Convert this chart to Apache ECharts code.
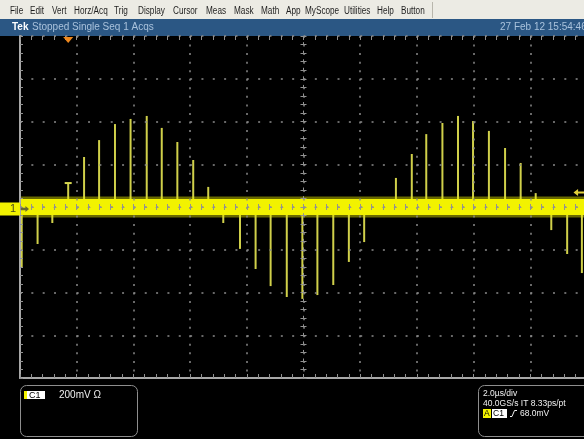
<!DOCTYPE html>
<html>
<head>
<meta charset="utf-8">
<script src="https://cdn.jsdelivr.net/npm/echarts@6/dist/echarts.min.js"></script>
<style>
  html, body { margin: 0; padding: 0; background: #000; }
  #scope { width: 584px; height: 439px; }
</style>
</head>
<body>
<div id="scope"></div>
<script>
// Channel 1 single-shot record, 2.0 µs/div and 200 mV/div, time counted from screen centre.
const timeRangeUs = [-10, 10];
const voltRangeMv = [-800, 800];
const timeDivUs = 2;
const voltDivMv = 200;

// Spike train riding on the noisy baseline (time in µs, peak in mV)
const spikeTimesUs = [
  -9.94, -9.38, -8.86, -8.30, -7.74, -7.21, -6.65, -6.10, -5.53, -5.00,
  -4.45, -3.89, -3.36, -2.83, -2.24, -1.69, -1.16, -0.59, -0.04, 0.49,
  1.05, 1.60, 2.14, 3.26, 3.82, 4.33, 4.90, 5.45, 5.98, 6.54,
  7.11, 7.66, 8.19, 8.74, 9.30, 9.82
];
const spikePeakMv = [
  -285, -173, -75, 112, 234, 313, 388, 412, 426, 370,
  304, 220, 94, -75, -196, -290, -370, -421, -430, -412,
  -365, -257, -164, 136, 248, 341, 393, 426, 402, 356,
  276, 206, 65, -108, -220, -309
];

const baselineMv = 0;
const triggerTimeUs = -8.30;
const triggerLevelMv = 68;

const menuLabels = ['File', 'Edit', 'Vert', 'Horz/Acq', 'Trig', 'Display', 'Cursor', 'Meas',
  'Mask', 'Math', 'App', 'MyScope', 'Utilities', 'Help', 'Button'];
const statusText = 'Stopped Single Seq 1 Acqs';
const dateText = '27 Feb 12 15:54:46';
const channelScaleText = '200mV \u03a9';
const timebaseText = '2.0\u00b5s/div';
const sampleText = '40.0GS/s IT 8.33ps/pt';
const trigLevelText = '68.0mV';

// ---- layout ----
const plot = { left: 20, top: 36, width: 567, height: 342 };
const minorX = plot.width / ((timeRangeUs[1] - timeRangeUs[0]) / timeDivUs) / 5;
const minorY = plot.height / ((voltRangeMv[1] - voltRangeMv[0]) / voltDivMv) / 5;
const FONT = 'Liberation Sans, Arial, sans-serif';

const gridDot = '#8a8a8a';
const tickGrey = '#929292';
const frameGrey = '#a8a8a8';

function xAxisBase(extra) {
  return Object.assign({
    type: 'value', min: timeRangeUs[0], max: timeRangeUs[1], interval: timeDivUs,
    axisLabel: { show: false }, splitLine: { show: false }, z: 4, silent: true
  }, extra);
}
function yAxisBase(extra) {
  return Object.assign({
    type: 'value', min: voltRangeMv[0], max: voltRangeMv[1], interval: voltDivMv,
    axisLabel: { show: false }, splitLine: { show: false }, z: 4, silent: true
  }, extra);
}
const tick = (len, inside) => ({ show: true, inside: inside, length: len, lineStyle: { color: tickGrey, width: 1 } });
const minor = (len) => ({ show: true, splitNumber: 5, length: len, lineStyle: { color: tickGrey, width: 1 } });

const xAxes = [
  // centre horizontal graticule line, ticks downward, plus vertical division lines
  xAxisBase({
    position: 'bottom',
    axisLine: { show: true, onZero: true, lineStyle: { color: tickGrey, width: 1, type: [2, minorX - 2] } },
    axisTick: tick(3, false), minorTick: minor(3),
    splitLine: { show: true, lineStyle: { color: gridDot, width: 1.5, type: [2, minorY - 2] } }
  }),
  // centre ticks pointing upward
  xAxisBase({
    position: 'bottom',
    axisLine: { show: false, onZero: true },
    axisTick: tick(3, true), minorTick: minor(3)
  }),
  // bottom frame
  xAxisBase({
    position: 'bottom',
    axisLine: { show: true, onZero: false, lineStyle: { color: frameGrey, width: 2 } },
    axisTick: tick(4, true), minorTick: minor(4)
  }),
  // top frame ticks
  xAxisBase({
    position: 'top',
    axisLine: { show: false, onZero: false },
    axisTick: tick(4, true), minorTick: minor(4)
  })
];

const yAxes = [
  // centre vertical graticule line, ticks to the left, plus horizontal division lines
  yAxisBase({
    position: 'left',
    axisLine: { show: true, onZero: true, lineStyle: { color: tickGrey, width: 1, type: [2, minorY - 2] } },
    axisTick: tick(3, false), minorTick: minor(3),
    splitLine: { show: true, lineStyle: { color: gridDot, width: 1.5, type: [2, minorX - 2] } }
  }),
  // centre ticks to the right
  yAxisBase({
    position: 'left',
    axisLine: { show: false, onZero: true },
    axisTick: tick(3, true), minorTick: minor(3)
  }),
  // left frame
  yAxisBase({
    position: 'left',
    axisLine: { show: true, onZero: false, lineStyle: { color: frameGrey, width: 2 } },
    axisTick: tick(3, true), minorTick: minor(3)
  })
];

// ---- window chrome ----
const menuX = [10, 30, 52, 74, 114, 138, 173, 206, 234, 261, 286, 305, 344, 377, 401];
const chrome = [
  { type: 'rect', shape: { x: 0, y: 0, width: 584, height: 19 }, style: { fill: '#ecebe4' } },
  { type: 'rect', shape: { x: 0, y: 19, width: 584, height: 17 }, style: { fill: '#2b5784' } },
  { type: 'line', shape: { x1: 432.5, y1: 2, x2: 432.5, y2: 18 }, style: { stroke: '#b8b6ac', lineWidth: 1 } },
  { type: 'text', x: 12, y: 27.5, style: { text: 'Tek', font: 'bold 10px ' + FONT, fill: '#ffffff', verticalAlign: 'middle' } },
  { type: 'text', x: 32, y: 27.5, style: { text: statusText, font: '10px ' + FONT, fill: '#a9c2dc', verticalAlign: 'middle' } },
  { type: 'text', x: 500, y: 27.5, style: { text: dateText, font: '10px ' + FONT, fill: '#a9c2dc', verticalAlign: 'middle' } },
  // readout boxes
  { type: 'rect', shape: { x: 20.5, y: 385.5, width: 117, height: 51, r: 6 }, style: { fill: 'none', stroke: '#8e8e8e', lineWidth: 1 } },
  { type: 'rect', shape: { x: 478.5, y: 385.5, width: 120, height: 51, r: 6 }, style: { fill: 'none', stroke: '#8e8e8e', lineWidth: 1 } },
  { type: 'rect', shape: { x: 24, y: 391, width: 3, height: 8 }, style: { fill: '#f2f200' } },
  { type: 'rect', shape: { x: 27, y: 391, width: 18, height: 8 }, style: { fill: '#ffffff' } },
  { type: 'text', x: 29, y: 395.5, style: { text: 'C1', font: '9px ' + FONT, fill: '#000', verticalAlign: 'middle' } },
  { type: 'text', x: 59, y: 395.5, style: { text: channelScaleText, font: '10px ' + FONT, fill: '#f0f0f0', verticalAlign: 'middle' } },
  { type: 'text', x: 483, y: 394, style: { text: timebaseText, font: '8.5px ' + FONT, fill: '#f0f0f0', verticalAlign: 'middle' } },
  { type: 'text', x: 483, y: 403.5, style: { text: sampleText, font: '8.5px ' + FONT, fill: '#f0f0f0', verticalAlign: 'middle' } },
  { type: 'rect', shape: { x: 483, y: 409, width: 8, height: 9 }, style: { fill: '#f2f200' } },
  { type: 'text', x: 484, y: 413.5, style: { text: 'A', font: '8.5px ' + FONT, fill: '#000', verticalAlign: 'middle' } },
  { type: 'rect', shape: { x: 492, y: 409, width: 15, height: 9 }, style: { fill: '#ffffff' } },
  { type: 'text', x: 493, y: 413.5, style: { text: 'C1', font: '8.5px ' + FONT, fill: '#000', verticalAlign: 'middle' } },
  { type: 'polyline', shape: { points: [[510, 416.5], [512, 416.5], [514.5, 410.5], [517, 410.5]] }, style: { stroke: '#f0f0f0', lineWidth: 1, fill: null } },
  { type: 'text', x: 520, y: 413.5, style: { text: trigLevelText, font: '8.5px ' + FONT, fill: '#f0f0f0', verticalAlign: 'middle' } }
];
menuLabels.forEach((label, i) => {
  chrome.push({ type: 'text', x: menuX[i], y: 11, scaleX: 0.82,
    style: { text: label, font: '10px ' + FONT, fill: '#1e1e1e', verticalAlign: 'middle' } });
});

const spikeData = spikeTimesUs.map((t, i) => [t, spikePeakMv[i]]);
const trigIdx = spikeTimesUs.indexOf(triggerTimeUs);

const chart = echarts.init(document.getElementById('scope'), null, { renderer: 'canvas' });
chart.setOption({
  backgroundColor: '#000000',
  animation: false,
  grid: Object.assign({ containLabel: false, outerBoundsMode: 'none', show: false }, plot),
  xAxis: xAxes,
  yAxis: yAxes,
  graphic: { elements: chrome },
  series: [
    {
      name: 'spikes',
      type: 'bar',
      data: spikeData,
      barWidth: 2,
      itemStyle: { color: '#d0d04a' },
      silent: true,
      z: 2,
      markPoint: {
        silent: true, z: 6,
        label: { show: false },
        data: [
          { coord: [triggerTimeUs, spikePeakMv[trigIdx]], symbol: 'rect', symbolSize: [7, 2],
            itemStyle: { color: '#d8d850' } }
        ]
      }
    },
    {
      name: 'trace halo',
      type: 'line',
      data: [[timeRangeUs[0], baselineMv], [timeRangeUs[1], baselineMv]],
      symbol: 'none', silent: true, z: 3,
      lineStyle: { color: '#e8e800', width: 21, opacity: 0.45, cap: 'butt' }
    },
    {
      name: 'trace',
      type: 'line',
      data: [[timeRangeUs[0], baselineMv], [timeRangeUs[1], baselineMv]],
      symbol: 'none', silent: true, z: 3,
      lineStyle: { color: '#f2f200', width: 16, cap: 'butt' },
      markPoint: {
        silent: true, z: 6,
        label: { show: false },
        data: [
          { coord: [timeRangeUs[0], baselineMv], symbol: 'rect', symbolSize: [20, 13], symbolOffset: [-10, 2],
            itemStyle: { color: '#f2f200' },
            label: { show: true, formatter: '1', color: '#4a4a20', fontSize: 11, fontFamily: FONT, offset: [3, 0] } },
          { coord: [timeRangeUs[0], baselineMv], symbol: 'path://M0,2H5V0L9,3.5L5,7V5H0Z', symbolSize: [8, 6], symbolOffset: [5, 2],
            itemStyle: { color: '#6a6a30' } },
          { coord: [triggerTimeUs, voltRangeMv[1]], symbol: 'triangle', symbolRotate: 180, symbolSize: [10, 6], symbolOffset: [0, 4],
            itemStyle: { color: '#f0891e' } },
          { coord: [timeRangeUs[1], triggerLevelMv], symbol: 'path://M0,3.5L5,0V2.5H12V4.5H5V7Z', symbolSize: [11, 7], symbolOffset: [-8, 0],
            itemStyle: { color: '#e2d03a' } }
        ]
      }
    }
  ]
});
</script>
</body>
</html>
